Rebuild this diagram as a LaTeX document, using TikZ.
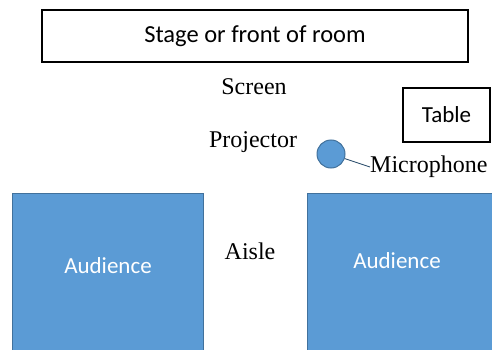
\documentclass[tikz,border=0pt]{standalone}
\usepackage{fontspec}
\setmainfont{Liberation Serif}
\setsansfont{Carlito}
\definecolor{audfill}{RGB}{91,155,213}
\definecolor{audedge}{RGB}{65,113,156}

\begin{document}
\begin{tikzpicture}[x=1pt, y=-1pt, every node/.style={inner sep=0pt},
  box/.style={draw, line width=1.5pt, font=\sffamily\fontsize{23}{27}\selectfont},
  seats/.style={draw=audedge, fill=audfill, line width=1pt},
  word/.style={font=\fontsize{24}{28}\selectfont}]
  \useasboundingbox (0,0) rectangle (492,350);
  \clip (0,0) rectangle (492,350);
  \node[box, minimum width=426pt, minimum height=52pt, font=\sffamily\fontsize{24.5}{28}\selectfont]
    (stage) at (255,36) {Stage or front of room};
  \node[box, minimum width=87pt, minimum height=54pt] (table) at (446.5,115) {Table};
  \node[word] (screen) at (254,87) {Screen};
  \node[word] (proj) at (253,142) {Projector};
  \node[word] (aisle) at (250,251) {Aisle};
  \node[seats, circle, minimum size=28pt] (mic) at (331,154) {};
  \node[word, anchor=west] (micl) at (370,167) {Microphone};
  \draw[audedge!70!black, line width=0.8pt] (mic) -- (micl.west);
  \foreach \i/\x/\w/\t/\y in {1/107.5/191pt/108/266, 2/401/188pt/397/261} {
    \node[seats, minimum width=\w, minimum height=170pt, anchor=north] (aud\i) at (\x,193) {};
    \node[white, font=\sffamily\fontsize{23}{27}\selectfont] (aud\i txt) at (\t,\y) {Audience};
  }
\end{tikzpicture}
\end{document}
